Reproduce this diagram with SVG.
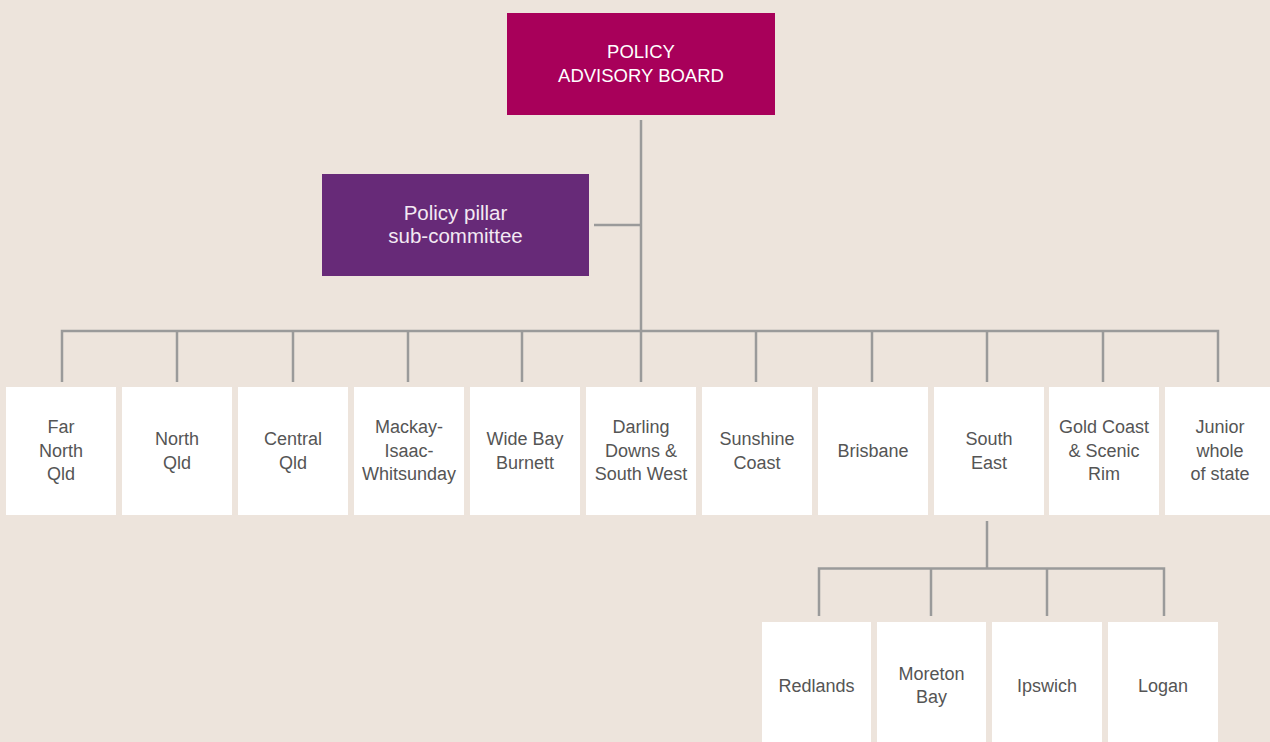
<svg xmlns="http://www.w3.org/2000/svg" width="1270" height="742" viewBox="0 0 1270 742">
<style>
.bg{fill:#EDE4DC}
.top{fill:#A8005A}
.pur{fill:#672A78}
.box{fill:#FFFFFF}
.t{font-family:"Liberation Sans",Arial,sans-serif;text-anchor:middle}
.tw{fill:#FFFFFF;font-size:18.5px}
.tp{fill:#F3E9F3;font-size:20.5px}
.tg{fill:#555555;font-size:18px}
.ln{stroke:#9A9A9A;stroke-width:2.5;fill:none}
</style>
<rect class="bg" x="0" y="0" width="1270" height="742"/>
<g id="connectors">
<path class="ln" d="M641 120V331M594 225H641"/>
<path class="ln" d="M62 382V331H1218V382M177 331V382M293 331V382M408 331V382M522 331V382M641 331V382M756 331V382M872 331V382M987 331V382M1103 331V382"/>
<path class="ln" d="M987 521V568.5M819 616V568.5H1164V616M931 568.5V616M1047 568.5V616"/>
</g>
<g id="policy-advisory-board">
<rect class="top" x="507" y="13" width="268" height="102"/>
<text class="t tw" x="641" y="58">POLICY</text>
<text class="t tw" x="641" y="82">ADVISORY BOARD</text>
</g>
<g id="policy-pillar">
<rect class="pur" x="322" y="174" width="267" height="102"/>
<text class="t tp" x="455.5" y="219.5">Policy pillar</text>
<text class="t tp" x="455.5" y="243">sub-committee</text>
</g>
<g id="far-north-qld">
<rect class="box" x="6" y="387" width="110" height="128"/>
<text class="t tg" x="61" y="433">Far</text><text class="t tg" x="61" y="457">North</text><text class="t tg" x="61" y="480">Qld</text>
</g>
<g id="north-qld">
<rect class="box" x="122" y="387" width="110" height="128"/>
<text class="t tg" x="177" y="445">North</text><text class="t tg" x="177" y="469">Qld</text>
</g>
<g id="central-qld">
<rect class="box" x="238" y="387" width="110" height="128"/>
<text class="t tg" x="293" y="445">Central</text><text class="t tg" x="293" y="469">Qld</text>
</g>
<g id="mackay">
<rect class="box" x="354" y="387" width="110" height="128"/>
<text class="t tg" x="409" y="433">Mackay-</text><text class="t tg" x="409" y="457">Isaac-</text><text class="t tg" x="409" y="480">Whitsunday</text>
</g>
<g id="wide-bay">
<rect class="box" x="470" y="387" width="110" height="128"/>
<text class="t tg" x="525" y="445">Wide Bay</text><text class="t tg" x="525" y="469">Burnett</text>
</g>
<g id="darling-downs">
<rect class="box" x="586" y="387" width="110" height="128"/>
<text class="t tg" x="641" y="433">Darling</text><text class="t tg" x="641" y="457">Downs &amp;</text><text class="t tg" x="641" y="480">South West</text>
</g>
<g id="sunshine-coast">
<rect class="box" x="702" y="387" width="110" height="128"/>
<text class="t tg" x="757" y="445">Sunshine</text><text class="t tg" x="757" y="469">Coast</text>
</g>
<g id="brisbane">
<rect class="box" x="818" y="387" width="110" height="128"/>
<text class="t tg" x="873" y="457">Brisbane</text>
</g>
<g id="south-east">
<rect class="box" x="934" y="387" width="110" height="128"/>
<text class="t tg" x="989" y="445">South</text><text class="t tg" x="989" y="469">East</text>
</g>
<g id="gold-coast">
<rect class="box" x="1049" y="387" width="110" height="128"/>
<text class="t tg" x="1104" y="433">Gold Coast</text><text class="t tg" x="1104" y="457">&amp; Scenic</text><text class="t tg" x="1104" y="480">Rim</text>
</g>
<g id="junior">
<rect class="box" x="1165" y="387" width="110" height="128"/>
<text class="t tg" x="1220" y="433">Junior</text><text class="t tg" x="1220" y="457">whole</text><text class="t tg" x="1220" y="480">of state</text>
</g>
<g id="redlands">
<rect class="box" x="762" y="622" width="109" height="140"/>
<text class="t tg" x="816.5" y="692">Redlands</text>
</g>
<g id="moreton-bay">
<rect class="box" x="877" y="622" width="109" height="140"/>
<text class="t tg" x="931.5" y="680">Moreton</text><text class="t tg" x="931.5" y="703">Bay</text>
</g>
<g id="ipswich">
<rect class="box" x="992" y="622" width="110" height="140"/>
<text class="t tg" x="1047" y="692">Ipswich</text>
</g>
<g id="logan">
<rect class="box" x="1108" y="622" width="110" height="140"/>
<text class="t tg" x="1163" y="692">Logan</text>
</g>
</svg>
